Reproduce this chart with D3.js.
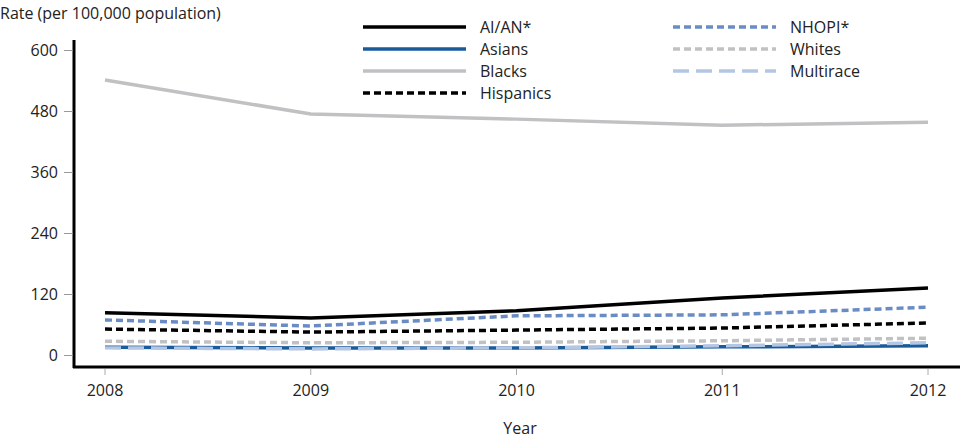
<!DOCTYPE html>
<html>
<head>
<meta charset="utf-8">
<script src="https://cdn.jsdelivr.net/npm/d3@7"></script>
<style>
  body { margin: 0; background: #fff; }
  text { font-family: 'Open Sans', 'Noto Sans', sans-serif; fill: #222; }
</style>
</head>
<body>
<div id="app"></div>
<script>
const years = [2008, 2009, 2010, 2011, 2012];
const yTicks = [0, 120, 240, 360, 480, 600];

const aian = [84, 74, 88, 113, 133];
const asians = [16, 15, 15, 17, 19];
const blacks = [542, 475, 465, 453, 459];
const hispanics = [52, 46, 50, 54, 64];
const nhopi = [70, 58, 78, 80, 95];
const whites = [28, 25, 26, 29, 34];
const multirace = [15, 13, 15, 19, 25];

const seriesNames = ['AI/AN*', 'Asians', 'Blacks', 'Hispanics', 'NHOPI*', 'Whites', 'Multirace'];
const seriesValues = [aian, asians, blacks, hispanics, nhopi, whites, multirace];

// styles per series
const styles = {
  'AI/AN*': { color: '#000', dash: null },
  'Asians': { color: '#1a5b9c', dash: null },
  'Blacks': { color: '#c1c1c3', dash: null },
  'Hispanics': { color: '#000', dash: '7,4' },
  'NHOPI*': { color: '#6a8cc4', dash: '7,4' },
  'Whites': { color: '#c1c1c3', dash: '7,4' },
  'Multirace': { color: '#b3c6e4', dash: '16,7' },
};

const width = 960, height = 440;
const svg = d3.select('#app').append('svg')
  .attr('width', width).attr('height', height);

const x = d3.scalePoint().domain(years).range([105, 928]);
const y = d3.scaleLinear().domain([0, 600]).range([355.5, 50.5]);

// axes
svg.append('line').attr('x1', 74).attr('x2', 74).attr('y1', 40).attr('y2', 368)
  .attr('stroke', '#000').attr('stroke-width', 3);
svg.append('line').attr('x1', 73).attr('x2', 960).attr('y1', 367).attr('y2', 367)
  .attr('stroke', '#000').attr('stroke-width', 3);

const yAxis = svg.append('g');
yAxis.selectAll('line').data(yTicks).enter().append('line')
  .attr('x1', 64).attr('x2', 73)
  .attr('y1', (d) => y(d)).attr('y2', (d) => y(d))
  .attr('stroke', '#999').attr('stroke-width', 1);
yAxis.selectAll('text').data(yTicks).enter().append('text')
  .attr('x', 58).attr('y', (d) => y(d)).attr('dy', '0.35em')
  .attr('text-anchor', 'end').attr('font-size', '16px')
  .text((d) => d);

const xAxis = svg.append('g');
xAxis.selectAll('line').data(years).enter().append('line')
  .attr('x1', (d) => x(d)).attr('x2', (d) => x(d))
  .attr('y1', 369).attr('y2', 375)
  .attr('stroke', '#aaa').attr('stroke-width', 1);
xAxis.selectAll('text').data(years).enter().append('text')
  .attr('x', (d) => x(d)).attr('y', 396)
  .attr('text-anchor', 'middle').attr('font-size', '16px')
  .text((d) => d);

svg.append('text').attr('x', 520).attr('y', 434).attr('text-anchor', 'middle')
  .attr('font-size', '16px').text('Year');
svg.append('text').attr('x', 0).attr('y', 19)
  .attr('font-size', '16px').text('Rate (per 100,000 population)');

// lines - draw in order so lower ones overlap correctly
const line = d3.line().x((d, i) => x(years[i])).y((d) => y(d));
const drawOrder = ['Blacks', 'AI/AN*', 'NHOPI*', 'Hispanics', 'Whites', 'Asians', 'Multirace'];
drawOrder.forEach((name) => {
  const vals = seriesValues[seriesNames.indexOf(name)];
  svg.append('path').datum(vals)
    .attr('d', line)
    .attr('fill', 'none')
    .attr('stroke', styles[name].color)
    .attr('stroke-width', 3.5)
    .attr('stroke-dasharray', styles[name].dash);
});

// legend
const legend = svg.append('g');
seriesNames.forEach((name, i) => {
  const col = i < 4 ? 0 : 1;
  const row = i < 4 ? i : i - 4;
  const lx = col === 0 ? 363 : 673;
  const ly = 27 + row * 22;
  legend.append('line')
    .attr('x1', lx).attr('x2', lx + 103).attr('y1', ly).attr('y2', ly)
    .attr('stroke', styles[name].color).attr('stroke-width', 3.5)
    .attr('stroke-dasharray', styles[name].dash);
  legend.append('text')
    .attr('x', lx + 117).attr('y', ly).attr('dy', '0.35em')
    .attr('font-size', '16px').text(name);
});
</script>
</body>
</html>
